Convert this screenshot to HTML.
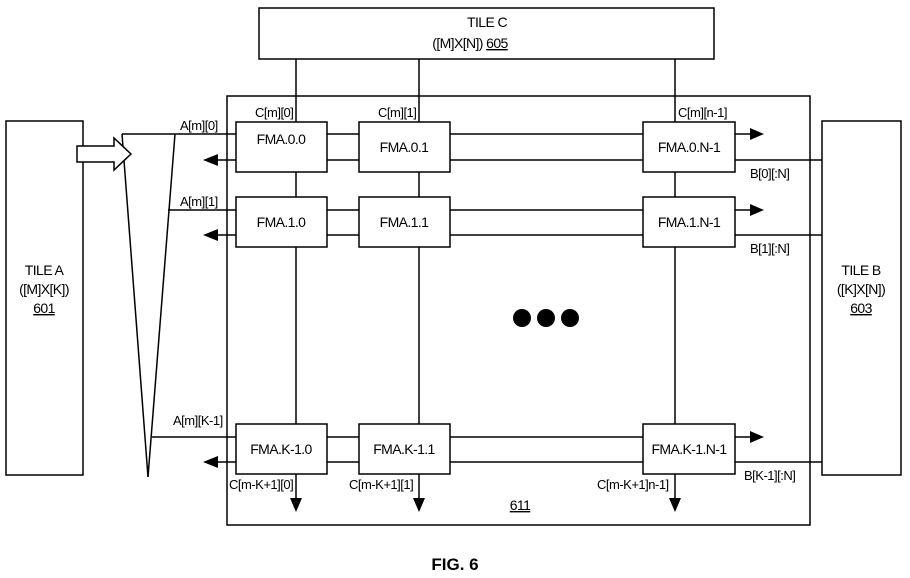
<!DOCTYPE html>
<html><head><meta charset="utf-8"><style>
html,body{margin:0;padding:0;background:#fff}
svg{display:block}
text{font-family:"Liberation Sans",Arial,sans-serif;font-size:13px;fill:#000;letter-spacing:-0.5px}
.b text{font-size:14px;letter-spacing:-0.6px}
</style></head><body>
<svg width="910" height="578" viewBox="0 0 910 578" xmlns="http://www.w3.org/2000/svg">
<g fill="none" stroke="#000" stroke-width="1.5">
<rect x="259" y="8" width="455" height="51"/>
<rect x="227" y="96" width="583" height="429"/>
<rect x="6" y="121" width="77" height="354"/>
<rect x="822" y="121" width="79" height="354"/>
<line x1="296" y1="59" x2="296" y2="500"/>
<line x1="419" y1="59" x2="419" y2="500"/>
<line x1="675" y1="59" x2="675" y2="500"/>
<line x1="122" y1="134" x2="643" y2="134"/>
<line x1="210" y1="160" x2="822" y2="160"/>
<line x1="168" y1="210" x2="643" y2="210"/>
<line x1="210" y1="235" x2="822" y2="235"/>
<line x1="152" y1="437" x2="643" y2="437"/>
<line x1="210" y1="462" x2="822" y2="462"/>
<line x1="735" y1="134" x2="752" y2="134"/>
<line x1="735" y1="210" x2="752" y2="210"/>
<line x1="735" y1="437" x2="752" y2="437"/>
<line x1="122" y1="134" x2="148" y2="477"/>
<line x1="175" y1="134" x2="148" y2="477"/>
<polygon points="77,146 114,146 114,138 131,154 114,170 114,162 77,162" fill="#fff"/>
</g>
<g fill="#fff" stroke="#000" stroke-width="1.5">
<rect x="236" y="122" width="91" height="50"/>
<rect x="359" y="122" width="91" height="50"/>
<rect x="643" y="122" width="92" height="50"/>
<rect x="236" y="197" width="91" height="50"/>
<rect x="359" y="197" width="91" height="50"/>
<rect x="643" y="197" width="92" height="50"/>
<rect x="236" y="424" width="91" height="50"/>
<rect x="359" y="424" width="91" height="50"/>
<rect x="643" y="424" width="92" height="50"/>
</g>
<g fill="#000">
<polygon points="203,160 218,154 218,166"/>
<polygon points="203,235 218,229 218,241"/>
<polygon points="203,462 218,456 218,468"/>
<polygon points="764,134 750,128 750,140"/>
<polygon points="764,210 750,204 750,216"/>
<polygon points="764,437 750,431 750,443"/>
<polygon points="296,512 290,498 302,498"/>
<polygon points="419,512 413,498 425,498"/>
<polygon points="675,512 669,498 681,498"/>
<circle cx="522" cy="318" r="9"/>
<circle cx="546" cy="318" r="9"/>
<circle cx="570" cy="318" r="9"/>
</g>
<g text-anchor="middle" class="b">
<text x="487" y="27">TILE C</text>
<text x="470" y="48">([M]X[N])  <tspan text-decoration="underline">605</tspan></text>
<text x="44" y="275">TILE A</text>
<text x="44" y="294">([M]X[K])</text>
<text x="44" y="313" text-decoration="underline">601</text>
<text x="861" y="275">TILE B</text>
<text x="861" y="294">([K]X[N])</text>
<text x="861" y="313" text-decoration="underline">603</text>
<text x="281" y="144">FMA.0.0</text>
<text x="404" y="152">FMA.0.1</text>
<text x="689" y="152">FMA.0.N-1</text>
<text x="281" y="227">FMA.1.0</text>
<text x="404" y="227">FMA.1.1</text>
<text x="689" y="227">FMA.1.N-1</text>
<text x="281" y="454">FMA.K-1.0</text>
<text x="404" y="454">FMA.K-1.1</text>
<text x="689" y="454">FMA.K-1.N-1</text>
<text x="520" y="510" text-decoration="underline">611</text>
<text x="455" y="570" style="font-weight:bold;font-size:17px;letter-spacing:0">FIG. 6</text>
</g>
<g>
<text x="255" y="117">C[m][0]</text>
<text x="378" y="117">C[m][1]</text>
<text x="678" y="117">C[m][n-1]</text>
<text x="180" y="130">A[m][0]</text>
<text x="180" y="206">A[m][1]</text>
<text x="173" y="425">A[m][K-1]</text>
<text x="750" y="178">B[0][:N]</text>
<text x="750" y="253">B[1][:N]</text>
<text x="744" y="480">B[K-1][:N]</text>
<text x="229" y="489">C[m-K+1][0]</text>
<text x="349" y="489">C[m-K+1][1]</text>
<text x="597" y="489">C[m-K+1]n-1]</text>
</g>
</svg>
</body></html>
